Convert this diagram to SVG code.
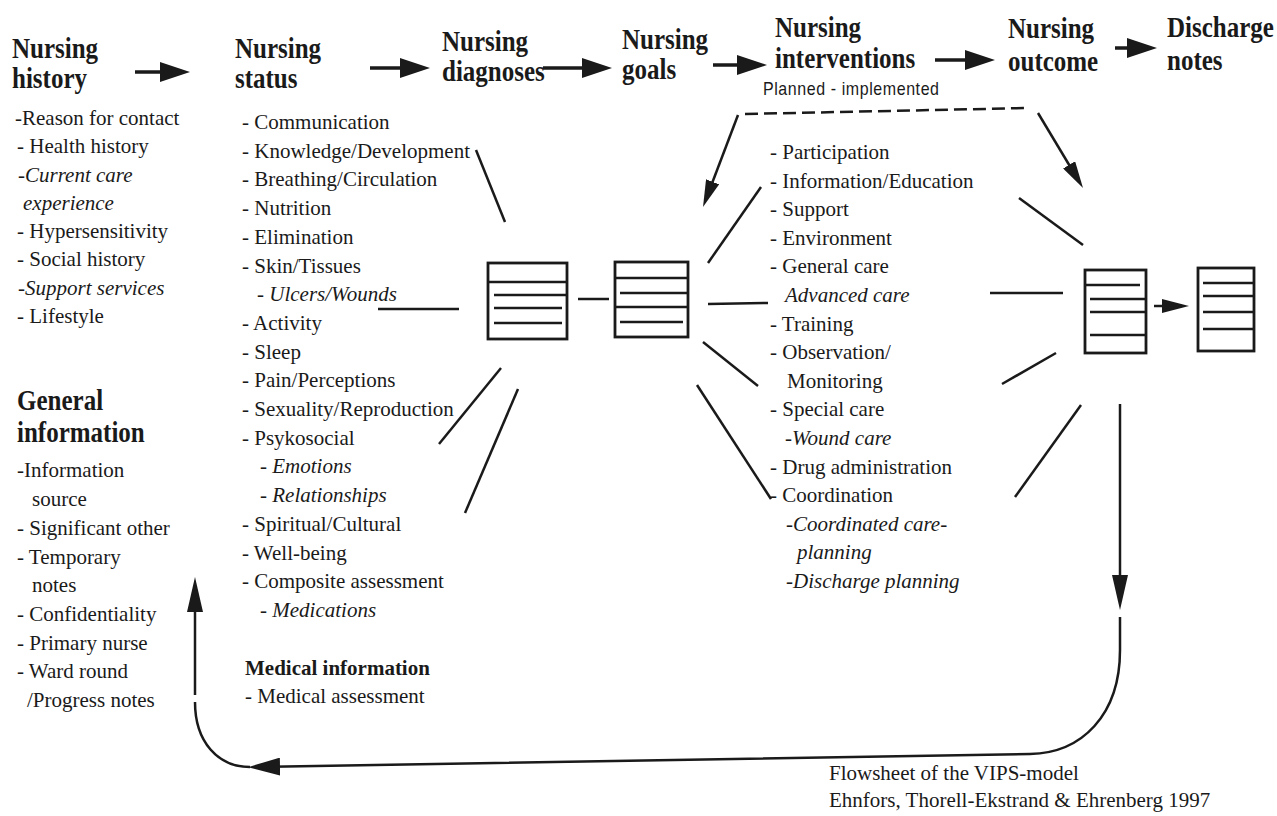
<svg xmlns="http://www.w3.org/2000/svg" width="1277" height="816" viewBox="0 0 1277 816">
<style>
text{font-family:"Liberation Serif","Times New Roman",serif;fill:#1a1a1a}
.h{font-size:25px;font-weight:bold}
.t{font-size:21px}
.i{font-size:21px;font-style:italic}
.b{font-size:21px;font-weight:bold}
.s{font-family:"Liberation Sans",Arial,sans-serif;font-size:16px}
.ln{stroke:#1a1a1a;stroke-width:2.5;fill:none}
.hd{stroke:#1a1a1a;stroke-width:3.5;fill:none}
.dash{stroke:#1a1a1a;stroke-width:2.5;fill:none;stroke-dasharray:13 6}
.box{stroke:#1a1a1a;stroke-width:2.8;fill:#fff}
</style>
<defs>
<marker id="ah" viewBox="0 0 30 20" markerWidth="30" markerHeight="20" markerUnits="userSpaceOnUse" refX="22" refY="10" orient="auto"><path d="M0,0 L30,10 L0,20 Z" fill="#1a1a1a"/></marker>
<marker id="av" viewBox="0 0 35 16" markerWidth="35" markerHeight="16" markerUnits="userSpaceOnUse" refX="27" refY="8" orient="auto"><path d="M0,0 L35,8 L0,16 Z" fill="#1a1a1a"/></marker>
<marker id="ab" viewBox="0 0 32 18" markerWidth="32" markerHeight="18" markerUnits="userSpaceOnUse" refX="24" refY="9" orient="auto"><path d="M0,0 L32,9 L0,18 Z" fill="#1a1a1a"/></marker>
<marker id="ad" viewBox="0 0 27 14" markerWidth="27" markerHeight="14" markerUnits="userSpaceOnUse" refX="20" refY="7" orient="auto"><path d="M0,0 L27,7 L0,14 Z" fill="#1a1a1a"/></marker>
</defs>
<rect width="1277" height="816" fill="#fff"/>

<g id="hdr-history">
<text class="h" transform="translate(12,58) scale(1,1.18)">Nursing</text>
<text class="h" transform="translate(12,88) scale(1,1.18)">history</text>
</g>
<g id="hdr-status">
<text class="h" transform="translate(235,58) scale(1,1.18)">Nursing</text>
<text class="h" transform="translate(235,88) scale(1,1.18)">status</text>
</g>
<g id="hdr-diagnoses">
<text class="h" transform="translate(442,51) scale(1,1.18)">Nursing</text>
<text class="h" transform="translate(442,81) scale(1,1.18)">diagnoses</text>
</g>
<g id="hdr-goals">
<text class="h" transform="translate(622,49) scale(1,1.18)">Nursing</text>
<text class="h" transform="translate(622,79) scale(1,1.18)">goals</text>
</g>
<g id="hdr-interventions">
<text class="h" transform="translate(775,37) scale(1,1.18)">Nursing</text>
<text class="h" transform="translate(775,68) scale(1,1.18)">interventions</text>
<text class="s" transform="translate(763,95) scale(1,1.15)" textLength="176">Planned - implemented</text>
</g>
<g id="hdr-outcome">
<text class="h" transform="translate(1008,38) scale(1,1.18)">Nursing</text>
<text class="h" transform="translate(1008,71) scale(1,1.18)">outcome</text>
</g>
<g id="hdr-discharge">
<text class="h" transform="translate(1167,37) scale(1,1.18)">Discharge</text>
<text class="h" transform="translate(1167,70) scale(1,1.18)">notes</text>
</g>

<g id="list-history">
<text class="t" x="15" y="125">-Reason for contact</text>
<text class="t" x="17" y="153">- Health history</text>
<text class="i" x="18" y="182">-Current care</text>
<text class="i" x="23" y="210">experience</text>
<text class="t" x="17" y="238">- Hypersensitivity</text>
<text class="t" x="17" y="266">- Social history</text>
<text class="i" x="18" y="295">-Support services</text>
<text class="t" x="17" y="323">- Lifestyle</text>
</g>

<g id="list-general">
<text class="h" transform="translate(17,410) scale(1,1.2)">General</text>
<text class="h" transform="translate(17,442) scale(1,1.2)">information</text>
<text class="t" x="17" y="477">-Information</text>
<text class="t" x="32" y="506">source</text>
<text class="t" x="17" y="535">- Significant other</text>
<text class="t" x="17" y="564">- Temporary</text>
<text class="t" x="32" y="592">notes</text>
<text class="t" x="17" y="621">- Confidentiality</text>
<text class="t" x="17" y="650">- Primary nurse</text>
<text class="t" x="17" y="678">- Ward round</text>
<text class="t" x="27" y="707">/Progress notes</text>
</g>

<g id="list-status">
<text class="t" x="242" y="129">- Communication</text>
<text class="t" x="242" y="157.7">- Knowledge/Development</text>
<text class="t" x="242" y="186.4">- Breathing/Circulation</text>
<text class="t" x="242" y="215.1">- Nutrition</text>
<text class="t" x="242" y="243.8">- Elimination</text>
<text class="t" x="242" y="272.5">- Skin/Tissues</text>
<text class="i" x="257" y="301.2">- Ulcers/Wounds</text>
<text class="t" x="242" y="329.9">- Activity</text>
<text class="t" x="242" y="358.6">- Sleep</text>
<text class="t" x="242" y="387.3">- Pain/Perceptions</text>
<text class="t" x="242" y="416">- Sexuality/Reproduction</text>
<text class="t" x="242" y="444.7">- Psykosocial</text>
<text class="i" x="260" y="473.4">- Emotions</text>
<text class="i" x="260" y="502.1">- Relationships</text>
<text class="t" x="242" y="530.8">- Spiritual/Cultural</text>
<text class="t" x="242" y="559.5">- Well-being</text>
<text class="t" x="242" y="588.2">- Composite assessment</text>
<text class="i" x="260" y="616.9">- Medications</text>
</g>

<g id="list-medical">
<text class="b" x="245" y="675">Medical  information</text>
<text class="t" x="245" y="703">- Medical assessment</text>
</g>

<g id="list-interventions">
<text class="t" x="770" y="159">- Participation</text>
<text class="t" x="770" y="187.6">- Information/Education</text>
<text class="t" x="770" y="216.2">- Support</text>
<text class="t" x="770" y="244.8">- Environment</text>
<text class="t" x="770" y="273.4">- General care</text>
<text class="i" x="785" y="302">Advanced care</text>
<text class="t" x="770" y="330.6">- Training</text>
<text class="t" x="770" y="359.2">- Observation/</text>
<text class="t" x="787" y="387.8">Monitoring</text>
<text class="t" x="770" y="416.4">- Special care</text>
<text class="i" x="785" y="445">-Wound care</text>
<text class="t" x="770" y="473.6">- Drug administration</text>
<text class="t" x="770" y="502.2">- Coordination</text>
<text class="i" x="786" y="530.8">-Coordinated care-</text>
<text class="i" x="797" y="559.4">planning</text>
<text class="i" x="786" y="588">-Discharge planning</text>
</g>

<g id="box-diagnoses">
<rect class="box" x="488" y="263" width="79" height="76"/>
<path class="ln" d="M488,282 H567 M494,295 H567 M494,308 H562 M494,323 H562"/>
</g>
<g id="box-goals">
<rect class="box" x="615" y="262" width="73" height="75"/>
<path class="ln" d="M615,278 H688 M620,293 H688 M615,307 H688 M620,322 H683"/>
</g>
<g id="box-outcome">
<rect class="box" x="1085" y="270" width="61" height="83"/>
<path class="ln" d="M1085,285 H1140 M1090,299 H1146 M1090,312 H1146 M1090,335 H1146"/>
</g>
<g id="box-discharge">
<rect class="box" x="1198" y="268" width="56" height="83"/>
<path class="ln" d="M1203,283 H1254 M1203,296 H1254 M1203,312 H1254 M1203,329 H1254"/>
</g>

<g id="footer">
<text class="t" x="829" y="780">Flowsheet of the VIPS-model</text>
<text class="t" x="829" y="807">Ehnfors, Thorell-Ekstrand &amp; Ehrenberg 1997</text>
</g>

<g id="connectors">
<line class="hd" x1="135" y1="72" x2="182" y2="72" marker-end="url(#ah)"/>
<line class="hd" x1="370" y1="68" x2="422" y2="68" marker-end="url(#ah)"/>
<line class="hd" x1="543" y1="68" x2="604" y2="68" marker-end="url(#ah)"/>
<line class="hd" x1="713" y1="65" x2="759" y2="65" marker-end="url(#ah)"/>
<line class="hd" x1="935" y1="60" x2="987" y2="60" marker-end="url(#ah)"/>
<line class="hd" x1="1115" y1="48" x2="1149" y2="48" marker-end="url(#ah)"/>

<line class="ln" x1="476" y1="150" x2="505" y2="222"/>
<line class="ln" x1="378" y1="309" x2="459" y2="309"/>
<line class="ln" x1="501" y1="368" x2="439" y2="444"/>
<line class="ln" x1="518" y1="389" x2="465" y2="513"/>
<line class="ln" x1="578" y1="299" x2="609" y2="299"/>

<line class="ln" x1="761" y1="187" x2="708" y2="263"/>
<line class="ln" x1="708" y1="304" x2="768" y2="303"/>
<line class="ln" x1="703" y1="342" x2="758" y2="386"/>
<line class="ln" x1="697" y1="385" x2="771" y2="499"/>

<line class="ln" x1="1019" y1="198" x2="1083" y2="245"/>
<line class="ln" x1="990" y1="293" x2="1063" y2="293"/>
<line class="ln" x1="1002" y1="384" x2="1056" y2="353"/>
<line class="ln" x1="1015" y1="497" x2="1081" y2="405"/>

<path class="dash" d="M745,114 L1028,108"/>
<line class="ln" x1="738" y1="115" x2="705.5" y2="200.5" marker-end="url(#ad)"/>
<line class="ln" x1="1038" y1="113" x2="1079.4" y2="182" marker-end="url(#ad)"/>
<line class="ln" x1="1154" y1="306" x2="1182" y2="306" marker-end="url(#ad)"/>

<line class="ln" x1="1120" y1="404" x2="1120" y2="602" marker-end="url(#av)"/>
<path class="ln" d="M1120,617 L1120,650 C1120,715 1082,753 1030,754 L256,767" marker-end="url(#ab)"/>
<path class="ln" d="M250,767 C218,767 195,742 195,702"/>
<line class="ln" x1="195" y1="695" x2="195" y2="585" marker-end="url(#av)"/>
</g>
</svg>
